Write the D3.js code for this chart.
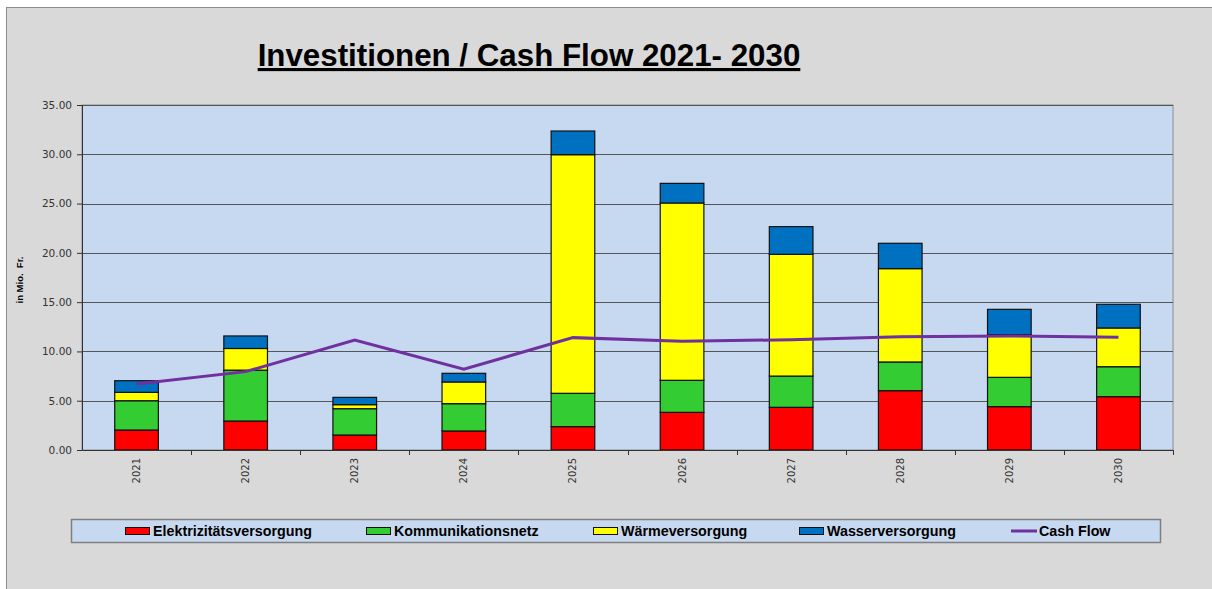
<!DOCTYPE html>
<html>
<head>
<meta charset="utf-8">
<script src="https://cdn.jsdelivr.net/npm/d3@7"></script>
<style>
  body { margin: 0; background: #fff; }
  text { font-family: "Liberation Sans", Arial, sans-serif; }
</style>
</head>
<body>
<svg id="svg" width="1212" height="589"></svg>
<script>
const years = ["2021", "2022", "2023", "2024", "2025", "2026", "2027", "2028", "2029", "2030"];
const elektrizitaet = [2.03, 2.94, 1.52, 1.93, 2.37, 3.82, 4.33, 6.02, 4.40, 5.41];
const kommunikation = [2.97, 5.16, 2.67, 2.77, 3.38, 3.25, 3.17, 2.91, 2.97, 3.04];
const waerme = [0.85, 2.20, 0.41, 2.20, 24.21, 17.99, 12.35, 9.47, 4.33, 3.93];
const wasser = [1.18, 1.27, 0.74, 0.88, 2.40, 1.99, 2.81, 2.57, 2.57, 2.40];
const cashFlow = [6.70, 7.95, 11.16, 8.20, 11.40, 11.02, 11.19, 11.50, 11.57, 11.43];
const yTicks = [0, 5, 10, 15, 20, 25, 30, 35];

const seriesNames = ["Elektrizitätsversorgung", "Kommunikationsnetz", "Wärmeversorgung", "Wasserversorgung"];
const seriesColors = ["#ff0000", "#33cc33", "#ffff00", "#0070c0"];
const lineColor = "#7030a0";

const mLeft = 82, mTop = 105, w = 1091, h = 345;

const svg = d3.select("#svg");

// outer chart frame
svg.append("rect").attr("x", 6.5).attr("y", 7.5).attr("width", 1210).attr("height", 590)
  .attr("fill", "#d9d9d9").attr("stroke", "#8c8c8c").attr("stroke-width", 1);

// title
svg.append("text").attr("x", 529).attr("y", 66).attr("text-anchor", "middle")
  .style("font-size", "31.3px").style("font-weight", "bold").style("text-decoration", "underline")
  .text("Investitionen / Cash Flow 2021- 2030");

const x = d3.scaleBand().domain(years).range([0, w]).paddingInner(0.6).paddingOuter(0.3),
    xb = d3.scaleBand().domain(years).range([0, w]),
    y = d3.scaleLinear().domain([0, 35]).range([h, 0]);

const g = svg.append("g").attr("transform", "translate(" + mLeft + ", " + mTop + ")");

g.append("rect").attr("width", w).attr("height", h).attr("fill", "#c6d9f0")
  .attr("stroke", "#8c8c8c").attr("stroke-width", 1);

// gridlines
g.append("g").selectAll("line").data(yTicks.slice(1)).join("line")
  .attr("x1", 0).attr("x2", w).attr("y1", d => Math.round(y(d)) + 0.5).attr("y2", d => Math.round(y(d)) + 0.5)
  .attr("stroke", "#555").attr("stroke-width", 1);

// stacked bars
const rows = years.map((yr, i) => ({ year: yr, s0: elektrizitaet[i], s1: kommunikation[i], s2: waerme[i], s3: wasser[i] }));
const stack = d3.stack().keys(["s0", "s1", "s2", "s3"])(rows);

g.append("g").selectAll("g").data(stack).join("g")
  .attr("fill", (d, i) => seriesColors[i])
  .selectAll("rect").data(d => d).join("rect")
  .attr("x", d => x(d.data.year))
  .attr("width", x.bandwidth())
  .attr("y", d => y(d[1]))
  .attr("height", d => y(d[0]) - y(d[1]))
  .attr("stroke", "#111").attr("stroke-width", 1.2);

// cash flow line
const line = d3.line().x((d, i) => xb(years[i]) + xb.bandwidth() / 2).y(d => y(d));
g.append("path").datum(cashFlow).attr("d", line).attr("fill", "none")
  .attr("stroke", lineColor).attr("stroke-width", 3);

// y axis
const yAxis = g.append("g").call(d3.axisLeft(y).tickValues(yTicks).tickFormat(d3.format(".2f")).tickSize(5).tickPadding(5));
yAxis.select(".domain").attr("stroke", "#333");
yAxis.selectAll(".tick line").attr("stroke", "#333");
yAxis.selectAll("text").attr("fill", "#333").style("font-family", "'DejaVu Sans', sans-serif").style("font-size", "10.5px");

// x axis
const xAxis = g.append("g").attr("transform", "translate(0," + h + ")").call(d3.axisBottom(xb).tickSize(0).tickPadding(0));
xAxis.select(".domain").attr("stroke", "#333");
xAxis.selectAll("text").attr("transform", "rotate(-90)").attr("text-anchor", "end")
  .attr("x", -8).attr("y", 0).attr("dy", "0.35em")
  .attr("fill", "#333").style("font-family", "'DejaVu Sans', sans-serif").style("font-size", "10px");
g.append("g").selectAll("line").data(years.slice(1).concat(["end"])).join("line")
  .attr("x1", d => Math.round(d === "end" ? w : xb(d)) + 0.5)
  .attr("x2", d => Math.round(d === "end" ? w : xb(d)) + 0.5)
  .attr("y1", h).attr("y2", h + 5).attr("stroke", "#333");

// y axis title
svg.append("text").attr("transform", "translate(23, 280) rotate(-90)").attr("text-anchor", "middle")
  .style("font-size", "9.5px").style("font-weight", "bold").style("white-space", "pre")
  .text("in Mio.  Fr.");

// legend
const legend = svg.append("g");
legend.append("rect").attr("x", 71.5).attr("y", 519.5).attr("width", 1089).attr("height", 23)
  .attr("fill", "#c6d9f0").attr("stroke", "#7f7f7f").attr("stroke-width", 1.5);
const legendX = [125, 366, 593, 799, 1011];
const items = seriesNames.map((n, i) => ({ name: n, color: seriesColors[i], type: "bar" }))
  .concat([{ name: "Cash Flow", color: lineColor, type: "line" }]);
const li = legend.selectAll("g.item").data(items).join("g").attr("class", "item")
  .attr("transform", (d, i) => "translate(" + legendX[i] + ", 531)");
li.filter(d => d.type === "bar").append("rect").attr("x", 0.5).attr("y", -3.5).attr("width", 24).attr("height", 7)
  .attr("fill", d => d.color).attr("stroke", "#111").attr("stroke-width", 1);
li.filter(d => d.type === "line").append("line").attr("x1", 0).attr("x2", 26).attr("y1", 0).attr("y2", 0)
  .attr("stroke", d => d.color).attr("stroke-width", 3);
li.append("text").attr("x", 28).attr("y", 0).attr("dy", "0.35em")
  .style("font-size", "14.3px").style("font-weight", "bold").text(d => d.name);
</script>
</body>
</html>
